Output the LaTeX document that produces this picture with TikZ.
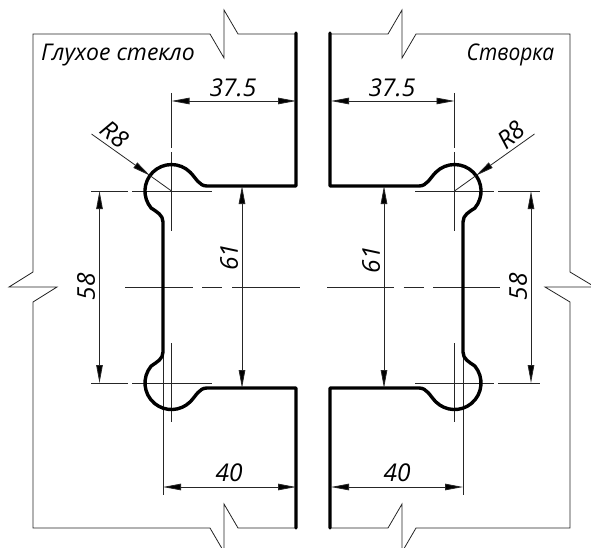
\documentclass[tikz,border=0pt]{standalone}
\usepackage{fontspec}
\usepackage{graphicx}
\setmainfont{Open Sans}
\usetikzlibrary{arrows.meta}
\definecolor{thinc}{gray}{0.15}
\tikzset{
  thinline/.style={draw=thinc,line width=0.8pt},
  thickline/.style={draw=black,line width=3.4pt,line join=round,line cap=round},
  dimline/.style={thinline,{Triangle[length=18pt,width=6.5pt,fill=black]}-{Triangle[length=18pt,width=6.5pt,fill=black]}},
  leaderline/.style={thinline,-{Triangle[length=18pt,width=6.5pt,fill=black]}},
  lbl/.style={font=\fontsize{23}{23}\selectfont\itshape,inner sep=0pt},
  numlbl/.style={font=\fontsize{24.5}{24.5}\selectfont\itshape,inner sep=0pt},
}
\newcommand{\boneprofile}{%
  \draw[thickline] (296,33) -- (296,186) -- (207,186)
    .. controls (199,186) and (196,178) .. (190.2,172.3)
    arc[start angle=-45,end angle=-220,radius=26.5]
    .. controls (157,212) and (163,215) .. (163,222)
    -- (163,352)
    .. controls (163,359) and (157,362) .. (151.2,366)
    arc[start angle=220,end angle=45,radius=26.5]
    .. controls (196,396) and (199,388) .. (207,388)
    -- (296,388) -- (296,528);
}
\begin{document}
\begin{tikzpicture}[x=1pt,y=1pt,yscale=-1]
\useasboundingbox (0,0) rectangle (591,548);
\clip (0,0) rectangle (591,548);
% left outline
\draw[thinline] (296,34) -- (238,34) -- (224,10) -- (224,58) -- (210,34) -- (33,34)
  -- (33,272) -- (9,287) -- (57,287) -- (33,302) -- (33,528) -- (210,528)
  -- (224,552) -- (224,504) -- (238,528) -- (296,528);
% right outline
\draw[thinline] (331,34) -- (388,34) -- (402,10) -- (402,58) -- (416,34) -- (570,34)
  -- (570,272) -- (595,287) -- (545,287) -- (570,302) -- (570,528) -- (416,528)
  -- (402,552) -- (402,504) -- (388,528) -- (331,528);
% centre lines
\foreach \y in {191,383}{
  \draw[thinline] (91,\y) -- (128,\y) (132,\y) -- (212,\y);
  \draw[thinline] (415,\y) -- (494,\y) (498,\y) -- (540,\y);
}
\draw[thinline] (125,287) -- (193,287) (202,287) -- (222,287) (232,287) -- (300,287);
\draw[thinline] (327,287) -- (394,287) (403.5,287) -- (424,287) (433,287) -- (500,287);
\draw[thinline] (171.5,93) -- (171.5,148) (171.5,152) -- (171.5,231) (171.5,343) -- (171.5,422);
\draw[thinline] (454.5,93) -- (454.5,148) (454.5,152) -- (454.5,231) (454.5,343) -- (454.5,422);
\draw[thinline] (163,352) -- (163,495);
\draw[thinline] (463,352) -- (463,495);
% profiles
\boneprofile
\begin{scope}[xshift=626pt,xscale=-1]
\boneprofile
\end{scope}
% dimensions
\draw[dimline] (171.5,101) -- (296,101);
\draw[dimline] (331,101) -- (454.5,101);
\draw[dimline] (163,487) -- (296,487);
\draw[dimline] (331,487) -- (463,487);
\draw[dimline] (242,186) -- (242,388);
\draw[dimline] (384,186) -- (384,388);
\draw[dimline] (99.5,191) -- (99.5,383);
\draw[dimline] (531,191) -- (531,383);
% radius leaders
\draw[thinline] (150,175.6) -- (171.5,191);
\draw[thinline] (476,175.6) -- (454.5,191);
\draw[leaderline] (91.5,134) -- (150,175.6);
\draw[leaderline] (534.5,134) -- (476,175.6);
% labels
\node[lbl] (glass) at (118,55) {Глухое стекло};
\node[lbl] (sash) at (510.5,55) {\scalebox{0.91}[1]{Створка}};
\node[numlbl] (a) at (233,87.5) {37.5};
\node[numlbl] (b) at (392,87.5) {37.5};
\node[numlbl] (c) at (229,473) {40};
\node[numlbl] (d) at (397,473) {40};
\node[numlbl,rotate=90] (e) at (229,257.5) {61};
\node[numlbl,rotate=90] (f) at (371,260) {61};
\node[numlbl,rotate=90] (g) at (86,287) {58};
\node[numlbl,rotate=90] (h) at (518,287) {58};
\node[numlbl,rotate=-38] (i) at (115,134.5) {R8};
\node[numlbl,rotate=40] (j) at (511,135) {R8};
\end{tikzpicture}
\end{document}
